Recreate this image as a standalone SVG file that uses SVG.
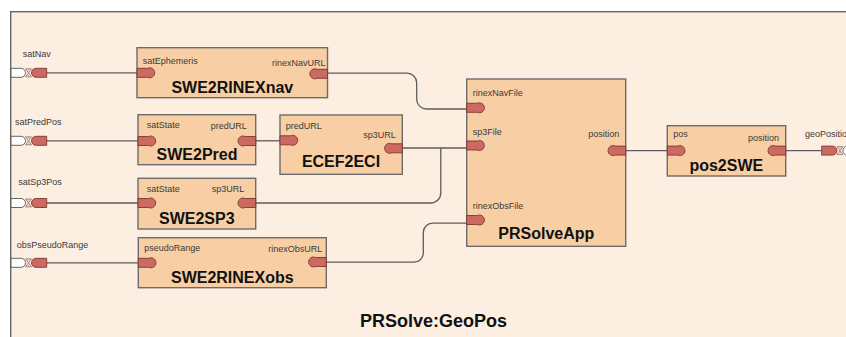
<svg xmlns="http://www.w3.org/2000/svg" width="846" height="337" viewBox="0 0 846 337">
  <style>
    .box { fill: #f8cfa5; stroke: #6b6b6b; stroke-width: 1.4; }
    .frame { fill: #fdeee2; stroke: #666; stroke-width: 1.4; }
    .plug { fill: #cc6a62; stroke: #7e3630; stroke-width: 0.9; }
    .sock { fill: #ffffff; stroke: #555; stroke-width: 0.9; }
    .glass { fill: #f1cbc5; stroke: #8a6a66; stroke-width: 0.7; }
    .wire { fill: none; stroke: #5c5c5c; stroke-width: 1.3; }
    .lbl { font-family: "Liberation Sans", Arial, sans-serif; font-size: 9px; fill: #3a3a3a; }
    .name { font-family: "Liberation Sans", Arial, sans-serif; font-size: 16px; font-weight: bold; fill: #111; text-anchor: middle; }
    .end { text-anchor: end; }
  </style>
  <defs>
    <!-- port plug: flat side on the box edge, rounded tip pointing inward -->
    <path id="plug" class="plug" d="M0,-4.5 H10.5 A5,5 0 1 1 10.5,4.5 H0 Z"/>
    <!-- boundary port: white socket, hourglass joint, red plug -->
    <g id="ext">
      <path class="sock" d="M0,-4.5 H10 A4.5,4.5 0 0 1 10,4.5 H0 Z"/>
      <path class="glass" d="M14.5,-4 L20.5,-4 L17.5,0 Z M14.5,4 L20.5,4 L17.5,0 Z"/>
      <path class="plug" d="M35.7,-4.5 H25 A4.5,4.5 0 0 0 25,4.5 H35.7 Z"/>
    </g>
  </defs>

  <!-- composite frame -->
  <rect class="frame" x="10.7" y="11.7" width="860" height="340"/>

  <!-- connectors -->
  <g id="connectors">
    <path class="wire" d="M46.7,72.8 H137"/>
    <path class="wire" d="M46.7,140.8 H138"/>
    <path class="wire" d="M46.7,203 H138"/>
    <path class="wire" d="M46.7,262.8 H138"/>
    <path class="wire" d="M255.7,140.8 H280"/>
    <path class="wire" d="M327.5,73.2 H407 A9.7,9.7 0 0 1 416.7,82.9 V99.3 A9.7,9.7 0 0 0 426.4,109 H466.7"/>
    <path class="wire" d="M402.3,148 H466.7"/>
    <path class="wire" d="M440.8,148 V193 A10,10 0 0 1 430.8,203 H255.7"/>
    <path class="wire" d="M326.3,262.2 H414 A9.3,9.3 0 0 0 423.3,252.9 V232.5 A9.3,9.3 0 0 1 432.6,223.2 H466.7"/>
    <path class="wire" d="M625.7,150.6 H667.3"/>
    <path class="wire" d="M785.7,150.6 H821.7"/>
  </g>

  <!-- boundary ports -->
  <g id="port-satNav">
    <use href="#ext" transform="translate(11,72.8)"/>
    <text class="lbl" x="22.7" y="57">satNav</text>
  </g>
  <g id="port-satPredPos">
    <use href="#ext" transform="translate(11,140.8)"/>
    <text class="lbl" x="15" y="125">satPredPos</text>
  </g>
  <g id="port-satSp3Pos">
    <use href="#ext" transform="translate(11,203)"/>
    <text class="lbl" x="18.3" y="185">satSp3Pos</text>
  </g>
  <g id="port-obsPseudoRange">
    <use href="#ext" transform="translate(11,262.8)"/>
    <text class="lbl" x="16.7" y="248.3">obsPseudoRange</text>
  </g>
  <g id="port-geoPosition">
    <use href="#ext" transform="translate(857.4,150.6) scale(-1,1)"/>
    <text class="lbl" x="805" y="137.3">geoPosition</text>
  </g>

  <!-- SWE2RINEXnav -->
  <g id="SWE2RINEXnav">
    <rect class="box" x="137" y="47.7" width="190.5" height="50"/>
    <use href="#plug" transform="translate(137,72.8)"/>
    <use href="#plug" transform="translate(327.5,73.8) scale(-1,1)"/>
    <text class="lbl" x="142.7" y="63.7">satEphemeris</text>
    <text class="lbl end" x="325.5" y="65.5">rinexNavURL</text>
    <text class="name" x="232.3" y="93.3">SWE2RINEXnav</text>
  </g>

  <!-- SWE2Pred -->
  <g id="SWE2Pred">
    <rect class="box" x="138" y="114.7" width="117.7" height="50"/>
    <use href="#plug" transform="translate(138,141)"/>
    <use href="#plug" transform="translate(255.7,141) scale(-1,1)"/>
    <text class="lbl" x="146.7" y="128.3">satState</text>
    <text class="lbl end" x="246.7" y="129">predURL</text>
    <text class="name" x="197" y="160.3">SWE2Pred</text>
  </g>

  <!-- ECEF2ECI -->
  <g id="ECEF2ECI">
    <rect class="box" x="280" y="115" width="122.3" height="59.3"/>
    <use href="#plug" transform="translate(280,140.3)"/>
    <use href="#plug" transform="translate(402.3,148.3) scale(-1,1)"/>
    <text class="lbl" x="285.7" y="129.3">predURL</text>
    <text class="lbl end" x="395.7" y="138.3">sp3URL</text>
    <text class="name" x="341" y="166.7">ECEF2ECI</text>
  </g>

  <!-- SWE2SP3 -->
  <g id="SWE2SP3">
    <rect class="box" x="138" y="178.3" width="117.7" height="50.7"/>
    <use href="#plug" transform="translate(138,203)"/>
    <use href="#plug" transform="translate(255.7,203) scale(-1,1)"/>
    <text class="lbl" x="146.7" y="191.7">satState</text>
    <text class="lbl end" x="244.3" y="192.3">sp3URL</text>
    <text class="name" x="196.8" y="223.5">SWE2SP3</text>
  </g>

  <!-- SWE2RINEXobs -->
  <g id="SWE2RINEXobs">
    <rect class="box" x="138.3" y="237.7" width="188" height="50"/>
    <use href="#plug" transform="translate(138.3,262.8)"/>
    <use href="#plug" transform="translate(326.3,262) scale(-1,1)"/>
    <text class="lbl" x="144.3" y="251">pseudoRange</text>
    <text class="lbl end" x="322.3" y="251.7">rinexObsURL</text>
    <text class="name" x="232.3" y="283.3">SWE2RINEXobs</text>
  </g>

  <!-- PRSolveApp -->
  <g id="PRSolveApp">
    <rect class="box" x="466.7" y="79" width="159" height="167.3"/>
    <use href="#plug" transform="translate(466.7,107.8)"/>
    <use href="#plug" transform="translate(466.7,145.5)"/>
    <use href="#plug" transform="translate(466.7,220)"/>
    <use href="#plug" transform="translate(625.7,150.6) scale(-1,1)"/>
    <text class="lbl" x="472.7" y="96">rinexNavFile</text>
    <text class="lbl" x="472.7" y="135">sp3File</text>
    <text class="lbl" x="472.7" y="209.3">rinexObsFile</text>
    <text class="lbl end" x="619.3" y="137.3">position</text>
    <text class="name" x="546.3" y="239.3">PRSolveApp</text>
  </g>

  <!-- pos2SWE -->
  <g id="pos2SWE">
    <rect class="box" x="667.3" y="125.7" width="118.4" height="50.3"/>
    <use href="#plug" transform="translate(667.3,150.6)"/>
    <use href="#plug" transform="translate(785.7,150.6) scale(-1,1)"/>
    <text class="lbl" x="673.3" y="137.3">pos</text>
    <text class="lbl end" x="779" y="141.3">position</text>
    <text class="name" x="726.3" y="171">pos2SWE</text>
  </g>

  <!-- composite title -->
  <text class="name" x="433.5" y="327" font-size="18" style="font-size:18px">PRSolve:GeoPos</text>
</svg>
